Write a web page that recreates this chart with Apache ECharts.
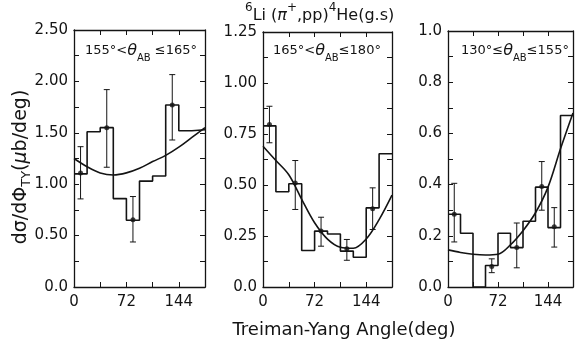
<!DOCTYPE html>
<html><head><meta charset="utf-8">
<script src="https://cdn.jsdelivr.net/npm/echarts@6/dist/echarts.min.js"></script>
<style>html,body{margin:0;padding:0;background:#fff}#c{width:576px;height:343px}</style>
</head><body><div id="c"></div>
<script>
// ---- data ----
const binLeft = [0, 18, 36, 54, 72, 90, 108, 126, 144, 162];
const xLabelTicks = [0, 72, 144];
const hist1 = [1.10, 1.51, 1.55, 0.86, 0.65, 1.03, 1.08, 1.77, 1.52, 1.53];
const hist2 = [0.79, 0.467, 0.506, 0.179, 0.274, 0.26, 0.176, 0.146, 0.388, 0.653];
const hist3 = [0.284, 0.21, 0.0, 0.084, 0.21, 0.154, 0.257, 0.39, 0.232, 0.67];

const ptX1 = [9, 45, 81, 135];
const ptY1 = [1.11, 1.55, 0.654, 1.77];
const lo1 = [0.857, 1.165, 0.438, 1.43];
const hi1 = [1.365, 1.92, 0.88, 2.066];

const ptX2 = [9, 45, 81, 117, 153];
const ptY2 = [0.797, 0.51, 0.274, 0.187, 0.383];
const lo2 = [0.707, 0.38, 0.2, 0.131, 0.282];
const hi2 = [0.886, 0.62, 0.342, 0.233, 0.486];

const ptX3 = [9, 63, 99, 135, 153];
const ptY3 = [0.284, 0.08, 0.154, 0.393, 0.235];
const lo3 = [0.176, 0.056, 0.075, 0.30, 0.156];
const hi3 = [0.405, 0.11, 0.25, 0.49, 0.31];

const fitX = [0, 18, 36, 54, 72, 90, 108, 126, 144, 162, 180];
const fit1 = [1.25, 1.17, 1.11, 1.09, 1.11, 1.155, 1.22, 1.28, 1.36, 1.455, 1.55];
const fit2 = [0.69, 0.62, 0.55, 0.43, 0.315, 0.235, 0.195, 0.19, 0.235, 0.33, 0.45];
const fit3 = [0.145, 0.135, 0.128, 0.125, 0.128, 0.165, 0.22, 0.29, 0.39, 0.54, 0.68];

const yMax = [2.5, 1.25, 1.0];
const yTickStep = [0.25, 0.125, 0.1];
const yLabelStep = [0.5, 0.25, 0.2];
const yDecimals = [2, 2, 1];
const panelLabels = ['155°<', '165°<', '130°≤'];
const panelLabels2 = [' ≤165°', '≤180°', '≤155°'];

// ---- layout ----
const INK = '#141414';
const FONT = 'DejaVu Sans';
const grids = [
  {left: 74, top: 30, width: 131, height: 257},
  {left: 263, top: 32, width: 129, height: 255},
  {left: 448, top: 31, width: 130, height: 256}
];
const hists = [hist1, hist2, hist3];
const pts = [[ptX1, ptY1, lo1, hi1], [ptX2, ptY2, lo2, hi2], [ptX3, ptY3, lo3, hi3]];
const fits = [fit1, fit2, fit3];

const tick = () => ({show: true, inside: true, length: 5, lineStyle: {color: INK, width: 1}});
const aline = () => ({show: true, onZero: false, lineStyle: {color: INK, width: 1.3}});

const xAxes = [], yAxes = [], series = [];
grids.forEach((g, i) => {
  xAxes.push({
    type: 'value', gridIndex: i, min: 0, max: 180, interval: 36, position: 'bottom',
    axisLine: aline(), axisTick: tick(), splitLine: {show: false},
    axisLabel: {
      color: INK, fontFamily: FONT, fontSize: 15, margin: 8,
      formatter: v => xLabelTicks.indexOf(v) >= 0 ? String(v) : ''
    }
  });
  xAxes.push({
    type: 'value', gridIndex: i, min: 0, max: 180, interval: 36, position: 'top',
    axisLine: aline(), axisTick: tick(), splitLine: {show: false},
    axisLabel: {show: false}
  });
  const ls = yLabelStep[i], dec = yDecimals[i];
  yAxes.push({
    type: 'value', gridIndex: i, min: 0, max: yMax[i], interval: yTickStep[i], position: 'left',
    axisLine: aline(), axisTick: tick(), splitLine: {show: false},
    axisLabel: {
      color: INK, fontFamily: FONT, fontSize: 15, margin: 6,
      formatter: v => {
        const r = v / ls;
        if (Math.abs(r - Math.round(r)) > 1e-6) return '';
        return v === 0 ? '0.0' : v.toFixed(dec);
      }
    }
  });
  yAxes.push({
    type: 'value', gridIndex: i, min: 0, max: yMax[i], interval: yTickStep[i], position: 'right',
    axisLine: aline(), axisTick: tick(), splitLine: {show: false},
    axisLabel: {show: false}
  });

  const h = hists[i];
  const histData = binLeft.map((x, k) => [x, h[k]]).concat([[180, h[h.length - 1]]]);
  series.push({
    type: 'line', xAxisIndex: 2 * i, yAxisIndex: 2 * i, step: 'end', data: histData,
    symbol: 'none', lineStyle: {color: INK, width: 1.6}, z: 3, animation: false
  });
  series.push({
    type: 'line', xAxisIndex: 2 * i, yAxisIndex: 2 * i, smooth: 0.35,
    data: fitX.map((x, k) => [x, fits[i][k]]),
    symbol: 'none', lineStyle: {color: INK, width: 1.6}, z: 3, animation: false
  });
  const [px, py, lo, hi] = pts[i];
  series.push({
    type: 'custom', xAxisIndex: 2 * i, yAxisIndex: 2 * i,
    data: px.map((x, k) => [x, lo[k], hi[k]]),
    encode: {x: 0, y: [1, 2]}, z: 4, animation: false,
    renderItem: (params, api) => {
      const x = api.value(0);
      const a = api.coord([x, api.value(1)]);
      const b = api.coord([x, api.value(2)]);
      const w = 3;
      const st = {stroke: INK, lineWidth: 1};
      return {type: 'group', children: [
        {type: 'line', shape: {x1: a[0], y1: a[1], x2: b[0], y2: b[1]}, style: st},
        {type: 'line', shape: {x1: a[0] - w, y1: a[1], x2: a[0] + w, y2: a[1]}, style: st},
        {type: 'line', shape: {x1: b[0] - w, y1: b[1], x2: b[0] + w, y2: b[1]}, style: st}
      ]};
    }
  });
  series.push({
    type: 'scatter', xAxisIndex: 2 * i, yAxisIndex: 2 * i, symbol: 'circle', symbolSize: 5,
    data: px.map((x, k) => [x, py[k]]), itemStyle: {color: INK}, z: 5, animation: false
  });
});

const panelLabelX = [85, 273, 461];
const graphics = panelLabelX.map((x, i) => ({
  type: 'text', x: x, y: 39,
  style: {
    text: '{m|' + panelLabels[i] + '}{t|θ}{s|AB}{m|' + panelLabels2[i] + '}',
    textAlign: 'left', textVerticalAlign: 'top', fill: INK,
    rich: {
      m: {fontFamily: FONT, fontSize: 13, lineHeight: 24, fill: INK},
      t: {fontFamily: FONT, fontSize: 16, fontStyle: 'italic', lineHeight: 24, fill: INK},
      s: {fontFamily: FONT, fontSize: 10, lineHeight: 10, verticalAlign: 'bottom', fill: INK}
    }
  }
}));
graphics.push({
  type: 'text', x: 245, y: 2,
  style: {
    text: '{p|6}{m|Li (}{g|π}{p|+}{m|,pp)}{p|4}{m|He(g.s)}',
    textAlign: 'left', textVerticalAlign: 'top', fill: INK,
    rich: {
      m: {fontFamily: FONT, fontSize: 16, lineHeight: 28, fill: INK},
      g: {fontFamily: FONT, fontSize: 16, fontStyle: 'italic', lineHeight: 28, fill: INK},
      p: {fontFamily: FONT, fontSize: 12, lineHeight: 12, verticalAlign: 'top', fill: INK}
    }
  }
});
graphics.push({
  type: 'text', x: 344, y: 330,
  style: {
    text: 'Treiman-Yang Angle(deg)', textAlign: 'center', textVerticalAlign: 'middle',
    fill: INK, font: '18px "DejaVu Sans"'
  }
});
graphics.push({
  type: 'text', x: 21, y: 167, rotation: Math.PI / 2,
  style: {
    text: '{m|dσ/dΦ}{s|TY}{m|(}{g|μ}{m|b/deg)}', textAlign: 'center', textVerticalAlign: 'middle',
    fill: INK,
    rich: {
      m: {fontFamily: FONT, fontSize: 19, lineHeight: 24, fill: INK},
      g: {fontFamily: FONT, fontSize: 19, fontStyle: 'italic', lineHeight: 24, fill: INK},
      s: {fontFamily: FONT, fontSize: 13, lineHeight: 13, verticalAlign: 'bottom', fill: INK}
    }
  }
});

const chart = echarts.init(document.getElementById('c'), null, {renderer: 'canvas'});
chart.setOption({
  backgroundColor: '#fff',
  animation: false,
  grid: grids,
  xAxis: xAxes,
  yAxis: yAxes,
  series: series,
  graphic: graphics
});
</script></body></html>
